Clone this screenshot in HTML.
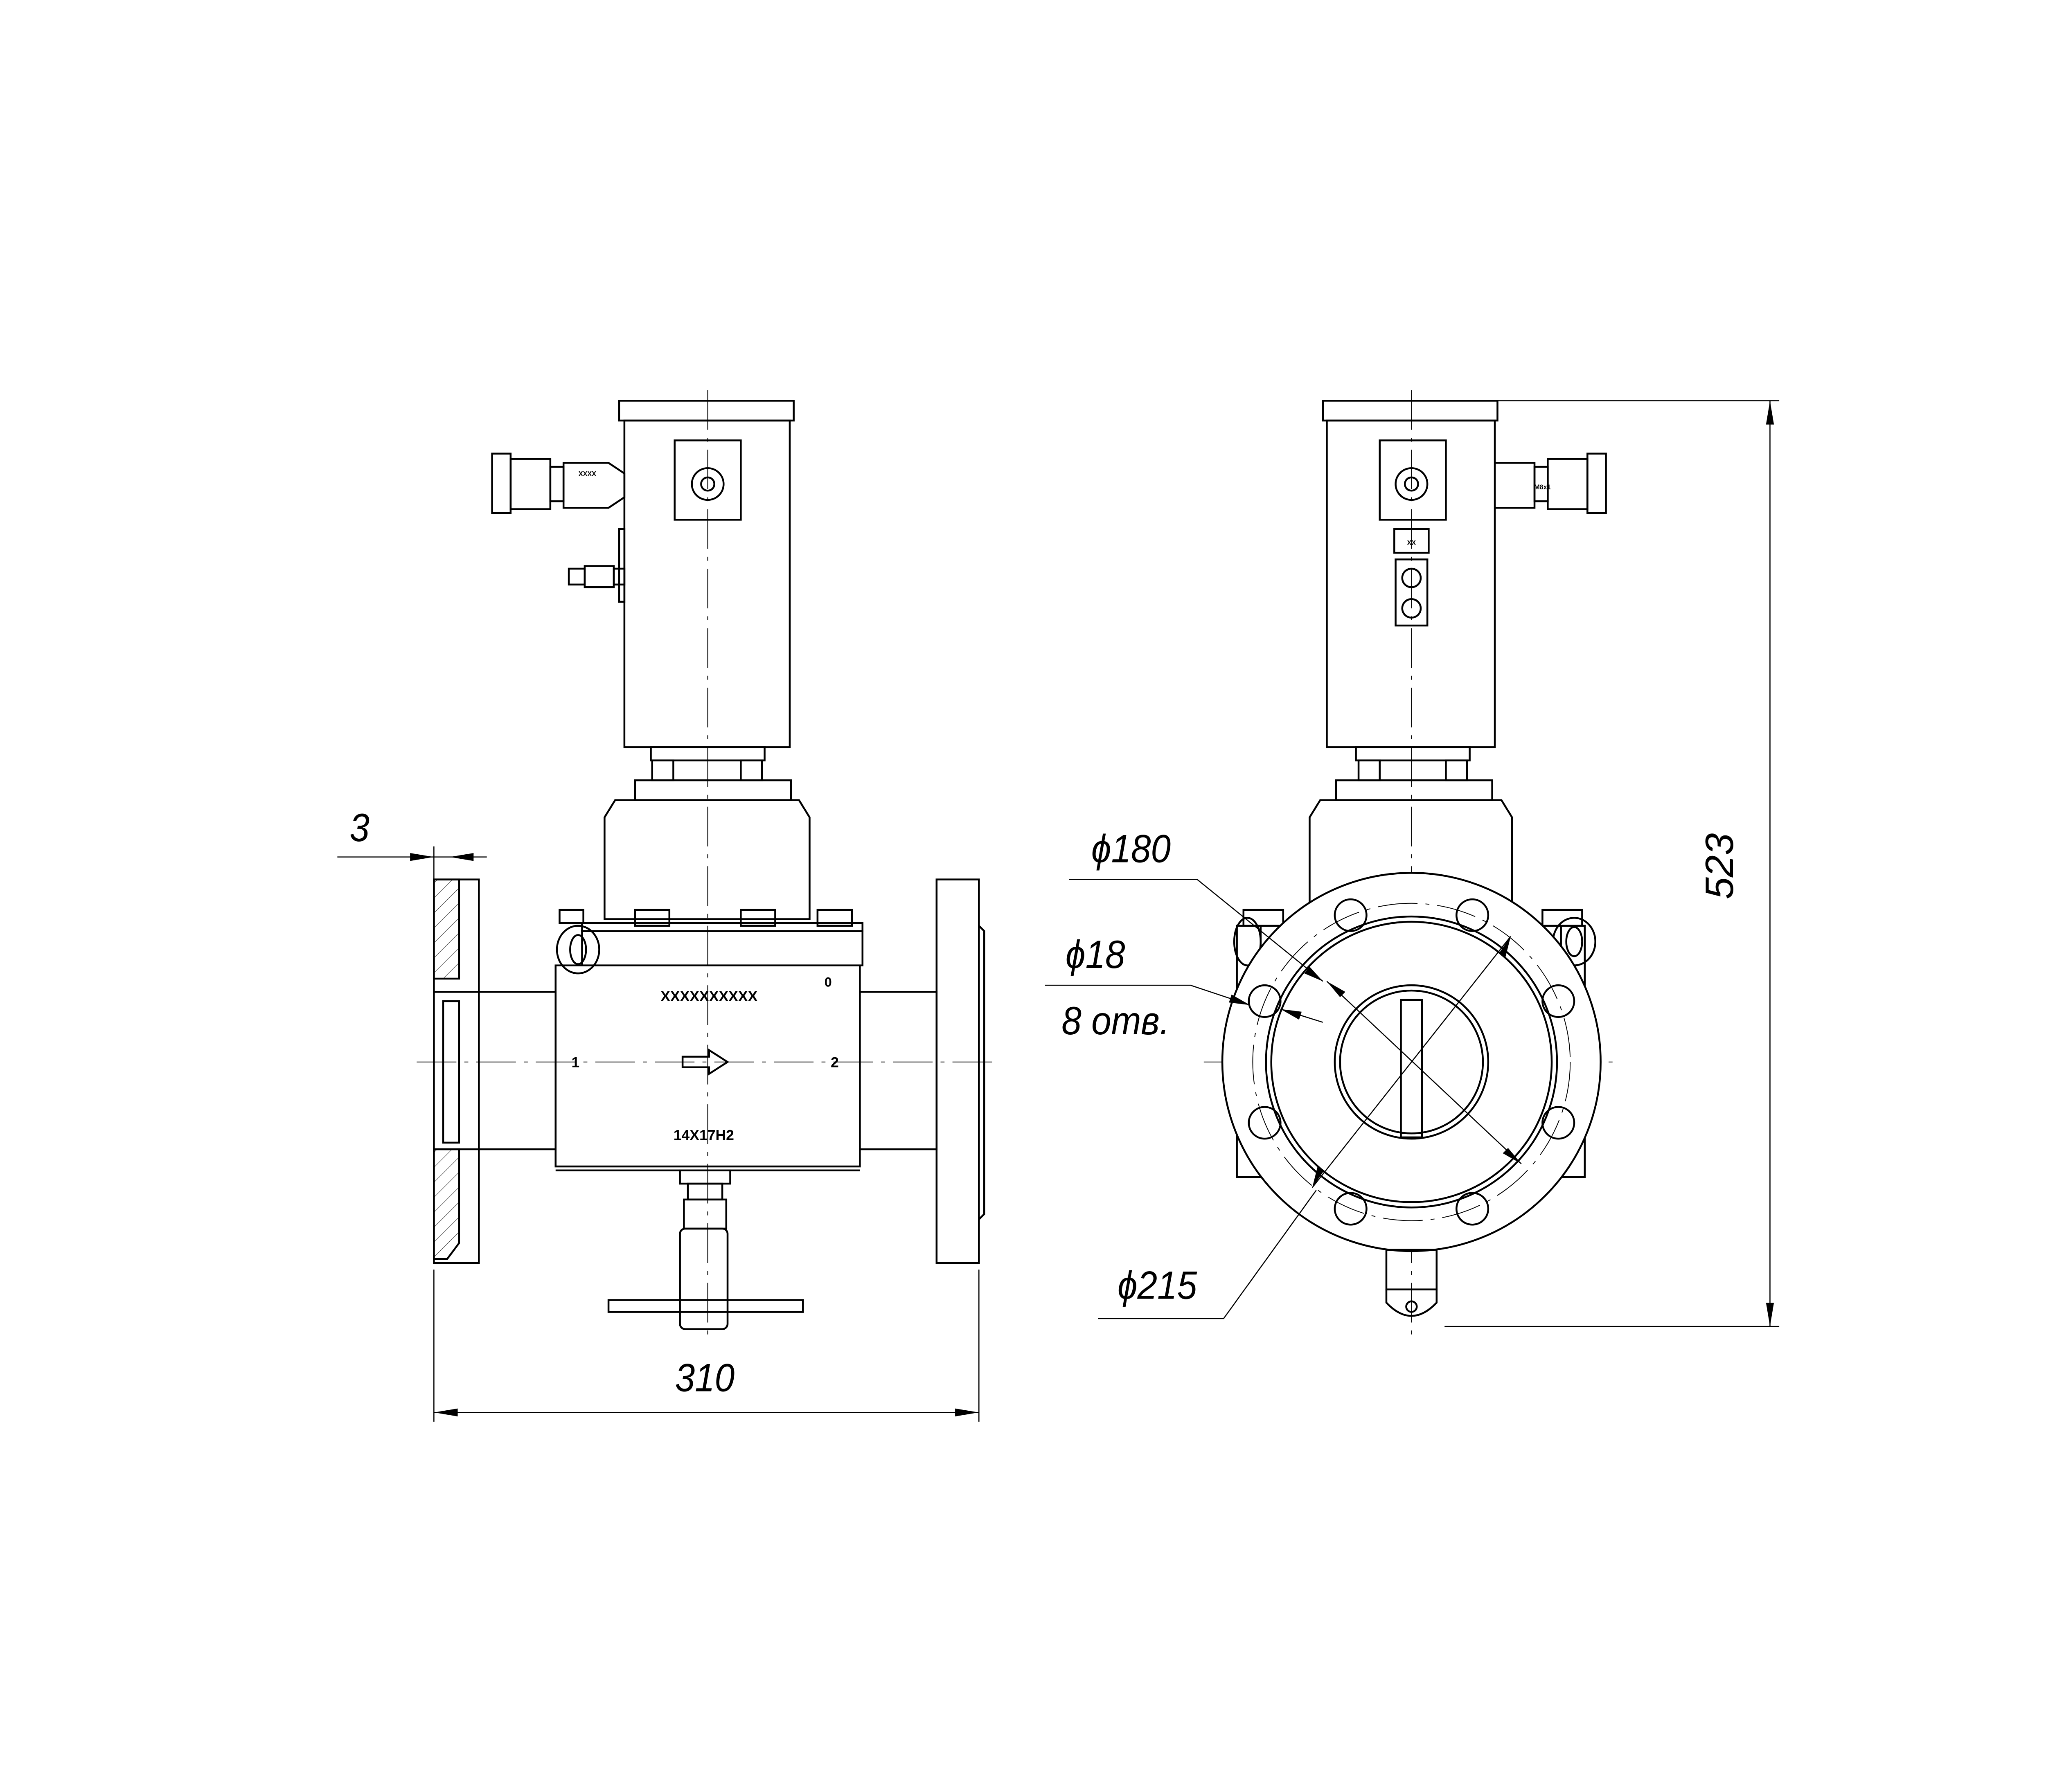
<!DOCTYPE html>
<html><head><meta charset="utf-8"><style>
html,body{margin:0;padding:0;background:#fff}
svg{display:block}
text{font-family:"Liberation Sans",sans-serif}
.t{font-style:italic;font-size:30px;fill:#000}
</style></head><body>
<svg width="5069" height="4380" viewBox="0 0 1568 1355" preserveAspectRatio="none" xmlns="http://www.w3.org/2000/svg">
<defs>
<pattern id="h" width="8" height="8" patternUnits="userSpaceOnUse" patternTransform="rotate(45)">
<line x1="0" y1="0" x2="0" y2="8" stroke="#000" stroke-width="0.5"/>
</pattern>
</defs>
<rect width="1568" height="1355" fill="#fff"/>
<g fill="none" stroke="#000" stroke-width="1.4">
<!-- ===== LEFT VIEW ===== -->
<rect x="468" y="303" width="132" height="15"/>
<rect x="472" y="318" width="125" height="247"/>
<rect x="510" y="333" width="50" height="60"/>
<circle cx="535" cy="366" r="12"/>
<circle cx="535" cy="366" r="5"/>
<rect x="468" y="400" width="4" height="55"/>
<rect x="372" y="343" width="14" height="45"/>
<rect x="386" y="347" width="30" height="38"/>
<rect x="416" y="353" width="10" height="26"/>
<path d="M426 350 L460 350 L472 358 L472 376 L460 384 L426 384 Z"/>
<rect x="430" y="430" width="12" height="12"/><rect x="442" y="428" width="22" height="16"/><rect x="464" y="430" width="8" height="12"/>
<rect x="492" y="565" width="86" height="10"/>
<rect x="493" y="575" width="16" height="15"/><rect x="560" y="575" width="16" height="15"/>
<rect x="480" y="590" width="118" height="15"/>
<path d="M465 605 L604 605 L612 618 L612 695 L457 695 L457 618 Z"/>
<rect x="423" y="688" width="18" height="10"/><rect x="480" y="688" width="26" height="12"/><rect x="560" y="688" width="26" height="12"/><rect x="618" y="688" width="26" height="12"/>
<rect x="440" y="698" width="212" height="6"/>
<rect x="440" y="704" width="212" height="26"/>
<ellipse cx="437" cy="718" rx="16" ry="18"/><ellipse cx="437" cy="718" rx="6" ry="11"/>
<rect x="420" y="730" width="230" height="152"/>
<line x1="420" y1="885" x2="650" y2="885"/>
<rect x="362" y="750" width="58" height="119"/>
<rect x="650" y="750" width="58" height="119"/>
<!-- left flange section -->
<path d="M328 665 L347 665 L347 740 L328 740 Z" fill="url(#h)"/>
<path d="M328 869 L347 869 L347 940 L338 952 L328 952 Z" fill="url(#h)"/>
<path d="M328 665 L362 665 L362 955 L328 955 Z"/>
<line x1="328" y1="750" x2="362" y2="750"/><line x1="328" y1="869" x2="362" y2="869"/>
<rect x="335" y="757" width="12" height="107"/>
<rect x="708" y="665" width="32" height="290"/>
<path d="M740 700 L744 704 L744 918 L740 922"/>
<path d="M516 799 L536 799 L536 794 L550 803 L536 812 L536 807 L516 807 Z"/>
<rect x="514" y="885" width="38" height="10"/>
<rect x="520" y="895" width="26" height="12"/>
<rect x="517" y="907" width="32" height="22"/>
<rect x="514" y="929" width="36" height="76" rx="4"/>
<rect x="460" y="983" width="147" height="9"/>
<g stroke-width="0.6" stroke-dasharray="30 6 3 6">
<line x1="535" y1="295" x2="535" y2="1010"/>
<line x1="315" y1="803" x2="755" y2="803"/>
<line x1="1067" y1="295" x2="1067" y2="1010"/>
<line x1="910" y1="803" x2="1225" y2="803"/>
</g>
<!-- ===== RIGHT VIEW ===== -->
<rect x="1000" y="303" width="132" height="15"/>
<rect x="1003" y="318" width="127" height="247"/>
<rect x="1043" y="333" width="50" height="60"/>
<circle cx="1067" cy="366" r="12"/><circle cx="1067" cy="366" r="5"/>
<rect x="1054" y="400" width="26" height="18"/>
<rect x="1055" y="423" width="24" height="50"/>
<circle cx="1067" cy="437" r="7"/><circle cx="1067" cy="460" r="7"/>
<path d="M1130 350 L1160 350 L1160 384 L1130 384"/>
<rect x="1160" y="353" width="10" height="26"/><rect x="1170" y="347" width="30" height="38"/><rect x="1200" y="343" width="14" height="45"/>
<rect x="1025" y="565" width="86" height="10"/>
<rect x="1027" y="575" width="16" height="15"/><rect x="1093" y="575" width="16" height="15"/>
<rect x="1010" y="590" width="118" height="15"/>
<path d="M998 605 L1135 605 L1143 618 L1143 690 L990 690 L990 618 Z"/>
<rect x="940" y="688" width="30" height="12"/><rect x="1166" y="688" width="30" height="12"/>
<ellipse cx="1190" cy="712" rx="16" ry="18"/><ellipse cx="1190" cy="712" rx="6" ry="11"/>
<ellipse cx="943" cy="712" rx="10" ry="18"/>
<rect x="935" y="700" width="18" height="190"/><rect x="1180" y="700" width="18" height="190"/>
<circle cx="1067" cy="803" r="143" fill="#fff"/>
<circle cx="1067" cy="803" r="120" stroke-width="0.6" stroke-dasharray="30 6 3 6"/>
<circle cx="1067" cy="803" r="110"/>
<circle cx="1067" cy="803" r="106"/>
<circle cx="1067" cy="803" r="58"/>
<circle cx="1067" cy="803" r="54"/>
<rect x="1059" y="756" width="16" height="104"/>
<g>
<circle cx="1178" cy="757" r="12"/><circle cx="1178" cy="849" r="12"/>
<circle cx="956" cy="757" r="12"/><circle cx="956" cy="849" r="12"/>
<circle cx="1113" cy="692" r="12"/><circle cx="1021" cy="692" r="12"/>
<circle cx="1113" cy="914" r="12"/><circle cx="1021" cy="914" r="12"/>
</g>
<rect x="1048" y="945" width="38" height="30"/>
<path d="M1048 975 L1048 985 Q1067 1005 1086 985 L1086 975"/>
<circle cx="1067" cy="988" r="4"/>
<g stroke-width="0.8">
<line x1="328" y1="960" x2="328" y2="1075"/><line x1="740" y1="960" x2="740" y2="1075"/>
<line x1="328" y1="1068" x2="740" y2="1068"/>
<line x1="328" y1="640" x2="328" y2="665"/>
<line x1="255" y1="648" x2="368" y2="648"/>
<line x1="1070" y1="303" x2="1345" y2="303"/><line x1="1092" y1="1003" x2="1345" y2="1003"/>
<line x1="1338" y1="303" x2="1338" y2="1003"/>
<path d="M808 665 L905 665 L1000 742"/>
<line x1="1142" y1="708" x2="992" y2="898"/>
<path d="M790 745 L900 745 L945 760"/>
<line x1="1003" y1="742" x2="1150" y2="880"/>
<path d="M830 997 L925 997 L995 900"/>
<line x1="968" y1="763" x2="1000" y2="773"/>
</g>
</g>
<g fill="#000">
<path d="M328 1068 l18 -3 l0 6 z"/><path d="M740 1068 l-18 -3 l0 6 z"/>
<path d="M328 648 l-18 -3 l0 6 z"/><path d="M340 648 l18 -3 l0 6 z"/>
<path d="M1338 303 l-3 18 l6 0 z"/><path d="M1338 1003 l-3 -18 l6 0 z"/>
<path d="M1000 742 l-14 -6 l4 -5 z"/>
<path d="M1142 708 l-4 16 l-5 -3 z"/><path d="M992 898 l4 -16 l5 3 z"/>
<path d="M945 760 l-16 -2 l2 -6 z"/>
<path d="M968 763 l16 2 l-2 6 z"/>
<path d="M1003 742 l14 8 l-4 4 z"/><path d="M1150 880 l-14 -8 l4 -4 z"/>
</g>
<g fill="#000" font-weight="bold" font-size="11" text-anchor="middle">
<text x="536" y="757">XXXXXXXXXX</text>
<text x="626" y="746" font-size="10">0</text>
<text x="435" y="807">1</text>
<text x="631" y="807">2</text>
<text x="532" y="862">14X17H2</text>
<text x="444" y="360" font-size="5">XXXX</text>
<text x="1166" y="370" font-size="5">M8x1</text>
<text x="1067" y="412" font-size="5">XX</text>
</g>
<g transform="scale(0.9 1)">
<text class="t" x="302" y="636" text-anchor="middle">3</text>
<text class="t" x="592" y="1052" text-anchor="middle">310</text>
<text class="t" x="950" y="652" text-anchor="middle">ϕ180</text>
<text class="t" x="920" y="732" text-anchor="middle">ϕ18</text>
<text class="t" x="937" y="782" text-anchor="middle">8 отв.</text>
<text class="t" x="972" y="982" text-anchor="middle">ϕ215</text>
</g>
<text class="t" x="1310" y="655" text-anchor="middle" transform="rotate(-90 1310 655)">523</text>
</svg>
</body></html>
